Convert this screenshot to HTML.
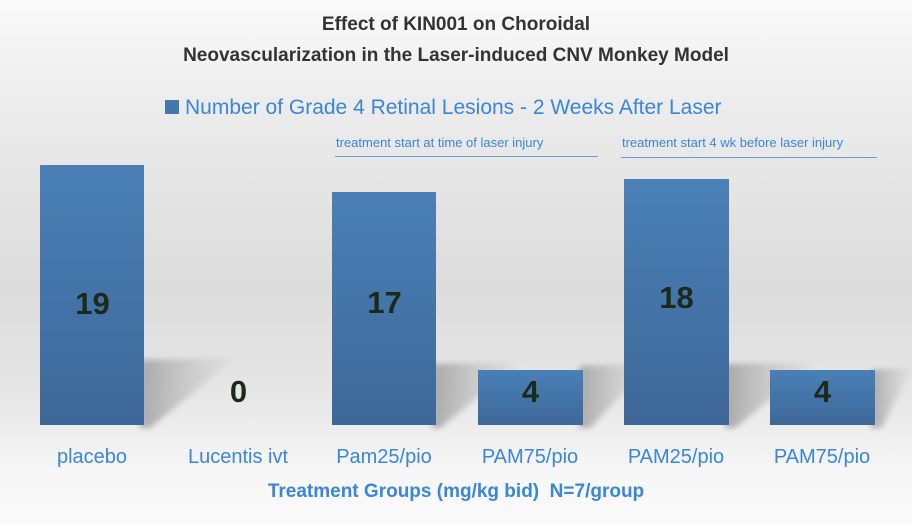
<!DOCTYPE html>
<html><head><style>
body{margin:0;width:912px;height:524px;overflow:hidden;font-family:"Liberation Sans",sans-serif;
background:linear-gradient(#fafafa 0%,#ececec 20%,#dcdcdc 55%,#e6e6e6 75%,#f6f6f6 90%,#fafafa 100%);position:relative}
.t{position:absolute;left:0;width:912px;text-align:center;font-weight:bold;font-size:19px;color:#333}
.bar{position:absolute;background:linear-gradient(#4a80b7,#3d6898);}
.v{position:absolute;width:105px;text-align:center;font-weight:bold;font-size:31px;color:#1c2a1c}
.x{position:absolute;top:446px;width:146px;text-align:center;font-size:20px;color:#3a86d8}
.n{position:absolute;font-size:13px;color:#3a86d8}
.l{position:absolute;height:1px;background:#6a9fd6}
</style></head><body>
<svg width="912" height="524" style="position:absolute;left:0;top:0">
<defs><filter id="b"><feGaussianBlur stdDeviation="3"/></filter>
<linearGradient id="g" x1="0" x2="1" y1="0" y2="0"><stop offset="0" stop-color="#999" stop-opacity=".8"/><stop offset="1" stop-color="#bbb" stop-opacity=".1"/></linearGradient></defs>
<g filter="url(#b)" fill="url(#g)">
<polygon points="140,360 235,358 150,428 140,428"/>
<polygon points="432,364 520,362 440,428 432,428"/>
<polygon points="579,366 650,364 590,428 579,428"/>
<polygon points="725,364 815,362 735,428 725,428"/>
<polygon points="871,370 912,368 882,428 871,428"/>
</g></svg>
<div class="t" style="top:14px">Effect of KIN001 on Choroidal</div>
<div class="t" style="top:45px">Neovascularization in the Laser-induced CNV Monkey Model</div>
<div style="position:absolute;top:96px;left:165px;font-size:21px;color:#3a86d8"><span style="display:inline-block;width:14px;height:14px;background:#4577ab;margin-right:6px"></span>Number of Grade 4 Retinal Lesions - 2 Weeks After Laser</div>
<div class="n" style="left:336px;top:135px">treatment start at time of laser injury</div>
<div class="l" style="left:335px;top:156px;width:263px"></div>
<div class="n" style="left:622px;top:135px">treatment start 4 wk before laser injury</div>
<div class="l" style="left:621px;top:157px;width:256px"></div>

<div class="bar" style="left:40px;top:165px;width:104px;height:260px"></div>
<div class="bar" style="left:332px;top:192px;width:104px;height:233px"></div>
<div class="bar" style="left:478px;top:370px;width:105px;height:55px"></div>
<div class="bar" style="left:624px;top:179px;width:105px;height:246px"></div>
<div class="bar" style="left:770px;top:370px;width:105px;height:55px"></div>

<div class="v" style="left:40px;top:286px">19</div>
<div class="v" style="left:186px;top:374px">0</div>
<div class="v" style="left:332px;top:285px">17</div>
<div class="v" style="left:478px;top:374px">4</div>
<div class="v" style="left:624px;top:280px">18</div>
<div class="v" style="left:770px;top:374px">4</div>

<div class="x" style="left:19px">placebo</div>
<div class="x" style="left:165px">Lucentis ivt</div>
<div class="x" style="left:311px">Pam25/pio</div>
<div class="x" style="left:457px">PAM75/pio</div>
<div class="x" style="left:603px">PAM25/pio</div>
<div class="x" style="left:749px">PAM75/pio</div>
<div style="position:absolute;top:481px;left:0;width:912px;text-align:center;font-weight:bold;font-size:19px;color:#3a86d8">Treatment Groups (mg/kg bid)&nbsp; N=7/group</div>
</body></html>
